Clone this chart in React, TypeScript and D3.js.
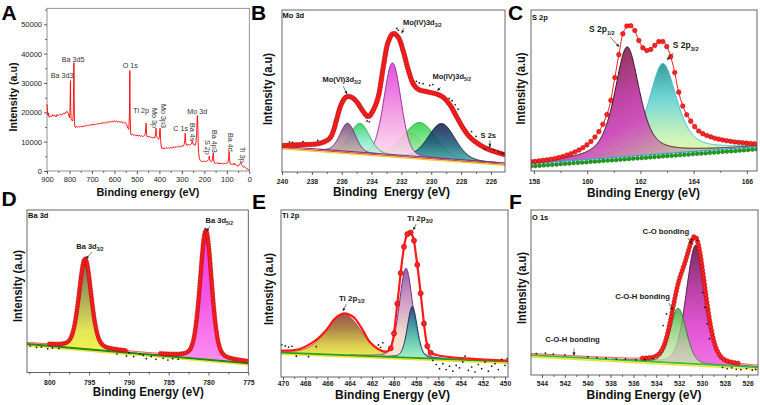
import React, { useEffect, useRef } from "react";
import * as d3 from "d3";

type Pt = [number, number];
type Peak = { center: number; height: number; fwhm: number };

const FONT = "'Liberation Sans', Arial, Helvetica, sans-serif";

// ================= Panel A: survey spectrum (eV, counts) =================
const surveySpectrum: Pt[] = [
  [900, 22800], [898, 20500], [896, 19000], [894, 19800], [892, 18600], [890, 18300], [885, 18900], [880, 18500],
  [875, 19200], [870, 18700], [865, 19000], [860, 18400], [855, 19300], [850, 18800], [845, 19100], [840, 19500],
  [835, 19000], [830, 19400], [825, 19800], [820, 19500], [815, 20100], [810, 20300], [806, 19700], [803, 18800],
  [800, 18200], [798, 19500], [796.5, 27000], [795.5, 30800], [794.5, 22000], [793, 17800], [790, 17400], [787, 17000],
  [785, 17600], [783, 19500], [781, 33000], [780, 36900], [779, 25000], [778, 17000], [776, 15200], [773, 14800],
  [770, 15300], [765, 14900], [760, 15200], [755, 15000], [750, 15300], [745, 14900], [740, 15400], [735, 15100],
  [730, 15500], [725, 15300], [720, 15700], [715, 15400], [710, 15800], [705, 15600], [700, 15900], [695, 15700],
  [690, 16000], [685, 15800], [680, 16100], [675, 15900], [670, 16300], [665, 16000], [660, 16400], [655, 16200],
  [650, 16500], [645, 16300], [640, 16600], [635, 16400], [630, 16800], [625, 16500], [620, 16900], [615, 16600],
  [610, 17000], [605, 16700], [600, 17200], [595, 16800], [590, 17000], [585, 16700], [580, 16900], [575, 16600],
  [570, 16800], [565, 16500], [560, 16700], [555, 16300], [550, 16400], [545, 15800], [540, 14500], [536, 14200],
  [533, 20000], [531.5, 34200], [530, 19000], [528, 13000], [525, 12300], [520, 12600], [515, 12100], [510, 12400],
  [505, 12000], [500, 12300], [495, 11900], [490, 12200], [485, 11800], [480, 12100], [475, 11700], [470, 11900],
  [465, 12200], [462, 13000], [459, 16300], [457, 12500], [455, 11800], [450, 11600], [445, 11900], [440, 11400],
  [435, 11600], [430, 11200], [425, 11500], [420, 11300], [417, 12500], [415, 14600], [413, 12000], [410, 11500],
  [406, 11000], [403, 10800], [400, 11500], [398, 14400], [396.5, 14600], [395, 11000], [392, 8600], [390, 7800],
  [387, 7900], [384, 7500], [380, 7900], [375, 7600], [370, 8000], [365, 7700], [360, 7900], [355, 7600],
  [350, 8100], [345, 7800], [340, 8200], [335, 7900], [330, 8300], [325, 8000], [320, 8400], [315, 8100],
  [310, 8500], [305, 8200], [300, 8600], [295, 8400], [290, 9000], [287, 10500], [285, 12900], [283, 10200],
  [280, 8800], [275, 8900], [270, 9000], [265, 8800], [260, 9200], [257, 9300], [255, 10000], [253, 10300],
  [250, 9100], [247, 9200], [244, 8800], [240, 8900], [237, 9800], [234, 13000], [232, 18300], [230, 18900],
  [228.5, 14000], [227, 8500], [225, 6000], [222, 4200], [219, 3700], [215, 3300], [210, 3200], [205, 3400],
  [200, 3300], [195, 3200], [190, 3400], [185, 3500], [180, 3900], [178, 5100], [176, 3800], [172, 3300],
  [168, 3200], [165, 3400], [162, 5400], [160, 6200], [158, 3800], [155, 2700], [150, 2600], [145, 2800],
  [140, 2500], [135, 2700], [130, 2600], [125, 2500], [120, 2700], [115, 2400], [110, 2600], [105, 2500],
  [100, 2700], [95, 2900], [92, 4500], [90, 6600], [88, 5000], [86, 2500], [80, 2300], [75, 2400],
  [70, 2200], [67, 2700], [65, 2200], [60, 2300], [55, 1800], [50, 1700], [45, 2100], [40, 2600],
  [37, 3000], [35, 2200], [30, 1600], [25, 1300], [20, 1500], [15, 1100], [10, 700], [5, 500], [0, 300],
];
const surveyXTicks = [900, 800, 700, 600, 500, 400, 300, 200, 100, 0];
const surveyYTicks = [0, 10000, 20000, 30000, 40000, 50000];
const surveyPeakNames = ["Ba 3d3", "Ba 3d5", "O 1s", "Ti 2p", "Mo 3p", "Mo 3p3", "C 1s", "Ba 4s", "Mo 3d", "S 2p", "Ba 4p3", "Ba 4d", "Ti 3p"];
const surveyPeakAnchors: Pt[] = [
  [883.5, 31700], [834.6, 37150], [563.3, 35100], [516, 19770], [434.3, 21470], [392.9, 22840],
  [338, 13630], [263.9, 16360], [276, 19430], [197.2, 10570], [166, 13970], [94.8, 12950], [41.5, 8180],
];
const surveyPeakVertical = [false, false, false, false, true, true, false, true, false, true, true, true, true];

// ================= Panel B: Mo 3d =================
const moTicks = [240, 238, 236, 234, 232, 230, 228, 226];
const moBackground: Pt[] = [[240, 15.4], [225, 5.2]];
const moEnvelope: Pt[] = [
  [240.0, 16.3], [239.0, 16.8], [237.7, 17.3], [237.2, 18.5], [236.8, 20.8], [236.55, 25.5], [236.35, 32.1],
  [236.0, 42.4], [235.67, 46.5], [235.33, 46.1], [235.0, 43.4], [234.55, 37.2], [234.22, 34.1], [233.88, 38.3],
  [233.55, 46.5], [233.21, 65], [232.88, 80.4], [232.54, 85.6], [232.21, 83.1], [231.87, 74.3], [231.54, 63],
  [231.2, 54.3], [230.87, 51], [230.31, 49.6], [229.64, 48.1], [229.2, 46.1], [228.75, 41.4], [228.3, 34.1],
  [227.86, 27], [227.4, 21.4], [226.74, 16.7], [226.07, 13.6], [225.0, 10.5],
];
const moComponents: Peak[] = [
  { center: 231.4, height: 15, fwhm: 1.8 },
  { center: 230.76, height: 21.4, fwhm: 2.5 },
  { center: 229.3, height: 21.8, fwhm: 2.1 },
  { center: 232.6, height: 57, fwhm: 1.35 },
  { center: 234.78, height: 18.2, fwhm: 1.5 },
  { center: 235.6, height: 17.7, fwhm: 1.2 },
];
const moRaw: Pt[] = [
  [239.5, 18.6], [239.3, 18.3], [238.6, 18.8], [237.6, 19.6], [234.3, 31.5], [234.15, 31.0], [232.3, 88.6],
  [232.2, 87.5], [231.0, 56], [230.8, 55], [230.55, 54.5], [230.1, 53.5], [229.9, 54], [228.8, 45.5],
  [228.6, 44], [228.4, 41.5], [228.2, 38.8], [227.3, 25], [227.0, 22], [226.4, 14.2], [226.1, 15.6],
  [225.8, 13.6], [225.5, 12.5], [225.3, 11.7], [225.15, 11.4],
];

// ================= Panel C: S 2p =================
const sTicks = [158, 160, 162, 164, 166];
const sBackground: Pt[] = [[157.89, 4.6], [166.38, 15.2]];
const sEnvelope: Pt[] = [
  [157.89, 5.8], [158.6, 7.2], [159.25, 9.9], [159.9, 15.1], [160.4, 23.4], [160.8, 37.9], [161.0, 54.5],
  [161.2, 73.1], [161.37, 86.5], [161.55, 90.7], [161.74, 88.6], [161.92, 81.8], [162.11, 76.2], [162.3, 74.7],
  [162.49, 77.2], [162.68, 80.3], [162.86, 80.3], [163.05, 75.2], [163.24, 64.8], [163.42, 50.3], [163.6, 39.9],
  [163.86, 31.7], [164.23, 24.4], [164.73, 20.7], [165.48, 18.2], [166.38, 16.8],
];
const sComponents: Peak[] = [
  { center: 162.84, height: 56, fwhm: 1.25 },
  { center: 161.5, height: 68, fwhm: 1.1 },
];

// ================= Panel D: Ba 3d =================
const baTicks = [800, 795, 790, 785, 780, 775];
const baBackground: Pt[] = [[802.8, 17.5], [775, 5.7]];
const baComponents: Peak[] = [
  { center: 795.5, height: 54.8, fwhm: 1.8 },
  { center: 780.33, height: 78.6, fwhm: 1.72 },
];
const baRaw: Pt[] = [
  [802.4, 16.3], [801.6, 15.5], [801.0, 15.7], [800.2, 14.6], [799.6, 15.1], [798.8, 14.8], [791.5, 11.4],
  [790.3, 10.2], [789.4, 9.8], [788.6, 11.4], [787.8, 8.5], [787.2, 9.8], [786.6, 8.1], [785.7, 8.7],
  [785.1, 7.7], [784.5, 8.5], [783.8, 8.1], [790.0, 12.2], [788.2, 10.6], [780.4, 88.5],
];

// ================= Panel E: Ti 2p =================
const tiTicks = [470, 468, 466, 464, 462, 460, 458, 456, 454, 452, 450];
const tiBackground: Pt[] = [[470.2, 14.6], [449.7, 9.2]];
const tiEnvelope: Pt[] = [
  [470.2, 15.8], [468.5, 16.8], [467.0, 22.2], [466.1, 28.1], [465.3, 35.1], [464.5, 38.1], [463.7, 36.1],
  [462.9, 29.1], [462.2, 21.1], [461.4, 16.6], [460.8, 15.2], [460.4, 16.2], [460.1, 22.2], [459.8, 38.1],
  [459.5, 56.1], [459.2, 73.1], [458.9, 84], [458.6, 87], [458.3, 84], [458.0, 72], [457.7, 56.1],
  [457.4, 38.1], [457.1, 22.2], [456.8, 15.2], [456.2, 13.2], [449.7, 9.8],
];
const tiComponents: Peak[] = [
  { center: 464.5, height: 24.6, fwhm: 3.7 },
  { center: 458.92, height: 53.5, fwhm: 1.41 },
  { center: 458.35, height: 30.7, fwhm: 1.05 },
];
const tiRaw: Pt[] = [
  [470.1, 19.3], [469.8, 18.6], [469.5, 17.9], [469.2, 18.4], [468.8, 12.5], [467.7, 12.2], [467.0, 18.2],
  [461.4, 19.2], [461.2, 17.8], [461.0, 20.5], [456.5, 10], [456.2, 7.5], [455.9, 5], [455.6, 8], [455.3, 4.5],
  [455.0, 6.5], [454.7, 3.5], [454.4, 7], [454.1, 5.5], [453.8, 9], [453.6, 12.5], [453.3, 4], [453.0, 6],
  [452.7, 3], [452.4, 7.5], [452.1, 5], [451.8, 9], [451.5, 3.5], [451.2, 6.5], [450.9, 8], [450.6, 4.5],
  [450.3, 10.5], [450.0, 7], [449.8, 11],
];

// ================= Panel F: O 1s =================
const oTicks = [544, 542, 540, 538, 536, 534, 532, 530, 528, 526];
const oBackground: Pt[] = [[545, 12.1], [525.1, 4.6]];
const oComponents: Peak[] = [
  { center: 530.54, height: 72.1, fwhm: 1.95 },
  { center: 532.08, height: 33.2, fwhm: 1.66 },
];
const oRaw: Pt[] = [
  [544.5, 13], [543.7, 13.3], [543, 12.6], [542, 12.2], [541.2, 12.8], [540, 11], [539.2, 10.6], [538.4, 10.2],
  [537.5, 9.6], [536.7, 9.8], [535.8, 9.2], [535, 9.3], [534.3, 10], [528.2, 4.6], [527.8, 3.8], [527.4, 4.4],
  [527, 3.5], [526.6, 3.2], [526.1, 3.9], [525.6, 2.9], [525.3, 3.4], [529.95, 50], [529.75, 41], [529.55, 31],
  [529.35, 22], [533.4, 30], [533.1, 37], [530.9, 82], [530.4, 81.5],
];

// ================= drawing helpers =================
function pv(E: number, p: Peak, eta: number) {
  const d = (E - p.center) / p.fwhm;
  return p.height * (eta / (1 + 4 * d * d) + (1 - eta) * Math.exp(-4 * Math.LN2 * d * d));
}

type Style = { stops: string[]; offsets?: number[]; dir?: [number, number]; stroke: string; opacity?: number };
type Ann = { parts: [string, boolean][]; e: number; u: number; arrow?: [number, number, number, number] };

function addAxes(g: any, x: any, yPos: number, ticks: number[], minorStep: number, fs: number, pad: number, bold: boolean) {
  const dom = x.domain();
  const lo = Math.min(dom[0], dom[1]);
  const hi = Math.max(dom[0], dom[1]);
  const minor = d3
    .range(Math.ceil(lo / minorStep) * minorStep, hi + 1e-9, minorStep)
    .filter((v) => !ticks.some((t) => Math.abs(t - v) < 1e-6));
  const ax = d3.axisBottom(x).tickValues(ticks).tickSize(3).tickPadding(pad).tickFormat((d: any) => String(d));
  const ga = g.append("g").attr("transform", `translate(0,${yPos})`).call(ax);
  ga.select(".domain").remove();
  ga.selectAll("line").attr("stroke", "#333").attr("stroke-width", 0.8);
  ga.selectAll("text")
    .attr("font-family", FONT)
    .attr("font-size", fs)
    .attr("font-weight", bold ? "bold" : "normal")
    .attr("fill", "#222");
  const am = d3.axisBottom(x).tickValues(minor).tickSize(2).tickFormat(() => "");
  const gm = g.append("g").attr("transform", `translate(0,${yPos})`).call(am);
  gm.select(".domain").remove();
  gm.selectAll("line").attr("stroke", "#333").attr("stroke-width", 0.7);
}

function drawArrow(g: any, x1: number, y1: number, x2: number, y2: number) {
  g.append("line").attr("x1", x1).attr("y1", y1).attr("x2", x2).attr("y2", y2).attr("stroke", "#222").attr("stroke-width", 0.6);
  const a = Math.atan2(y2 - y1, x2 - x1);
  const L = 3, w = 1.5;
  const bx = x2 - L * Math.cos(a), by = y2 - L * Math.sin(a);
  const pts = [
    [x2, y2],
    [bx + w * Math.sin(a), by - w * Math.cos(a)],
    [bx - w * Math.sin(a), by + w * Math.cos(a)],
  ];
  g.append("polygon").attr("points", pts.map((p) => p.join(",")).join(" ")).attr("fill", "#222");
}

function drawLabel(g: any, px: number, py: number, parts: [string, boolean][], fs: number, anchor = "middle") {
  const t = g.append("text").attr("x", px).attr("y", py).attr("text-anchor", anchor)
    .attr("font-family", FONT).attr("font-weight", "bold").attr("font-size", fs).attr("fill", "#1a1a1a")
    .style("white-space", "pre");
  parts.forEach(([s, sub]) => {
    const ts = t.append("tspan").text(s);
    if (sub) ts.attr("font-size", fs * 0.66).attr("dy", fs * 0.3);
  });
}

interface XpsPanel {
  id: string;
  letter: string; letterPos: Pt;
  title: string; titlePos: Pt;
  box: { l: number; r: number; t: number; b: number };
  domain: [number, number];
  ticks: number[]; minorStep: number; tickPad: number;
  background: Pt[];
  components: Peak[]; styles: Style[]; eta: number;
  envelope?: Pt[]; envOffset: number; envWidth: number;
  dots: { mode: string; step: number; r: number; range?: [number, number]; threshold?: number };
  raw: Pt[];
  baseLines: { off: number; color: string; w: number }[];
  greenDots?: boolean;
  labels: Ann[]; labelSize: number;
  xTitle: string; xTitlePos: Pt; xTitleLen: number;
  yTitlePos: Pt;
}

function drawXps(svg: any, defs: any, P: XpsPanel) {
  const { l, r, t, b } = P.box;
  const x = d3.scaleLinear().domain(P.domain).range([l, r]);
  const y = d3.scaleLinear().domain([0, 100]).range([b, t]);
  const g = svg.append("g");
  const clipId = `clip-${P.id}`;
  defs.append("clipPath").attr("id", clipId).append("rect").attr("x", l).attr("y", t).attr("width", r - l).attr("height", b - t);
  const plot = g.append("g").attr("clip-path", `url(#${clipId})`);
  const [[e0, u0], [e1, u1]] = P.background;
  const base = (E: number) => u0 + ((E - e0) / (e1 - e0)) * (u1 - u0);
  const lo = Math.min(P.domain[0], P.domain[1]);
  const hi = Math.max(P.domain[0], P.domain[1]);
  const N = 900;
  const grid = d3.range(N + 1).map((i) => lo + ((hi - lo) * i) / N);

  // component fills
  P.components.forEach((pk, i) => {
    const st = P.styles[i];
    const gid = `${P.id}-grad-${i}`;
    const lg = defs.append("linearGradient").attr("id", gid)
      .attr("x1", 0).attr("y1", 0)
      .attr("x2", st.dir ? st.dir[0] : 0).attr("y2", st.dir ? st.dir[1] : 1);
    st.stops.forEach((c, k) =>
      lg.append("stop").attr("offset", st.offsets ? st.offsets[k] : k / (st.stops.length - 1)).attr("stop-color", c)
    );
    const pts = grid
      .map((E) => [E, base(E), base(E) + pv(E, pk, P.eta)] as [number, number, number])
      .filter((d) => d[2] - d[1] > 0.25);
    const area = d3.area<[number, number, number]>().x((d) => x(d[0])).y0((d) => y(d[1])).y1((d) => y(d[2]));
    plot.append("path").attr("d", area(pts)).attr("fill", `url(#${gid})`).attr("fill-opacity", st.opacity ?? 0.88);
    const ln = d3.line<[number, number, number]>().x((d) => x(d[0])).y((d) => y(d[2]));
    plot.append("path").attr("d", ln(pts)).attr("fill", "none").attr("stroke", st.stroke).attr("stroke-width", 1);
  });

  // background lines
  P.baseLines.forEach((bl) => {
    plot.append("line")
      .attr("x1", x(e0)).attr("y1", y(u0 + bl.off)).attr("x2", x(e1)).attr("y2", y(u1 + bl.off))
      .attr("stroke", bl.color).attr("stroke-width", bl.w);
  });
  if (P.greenDots) {
    const gd = plot.append("g");
    for (let E = lo; E <= hi + 0.01; E += 0.16) {
      gd.append("circle").attr("cx", x(E)).attr("cy", y(base(E) - 1.7)).attr("r", 2.0)
        .attr("fill", "#1aa01a").attr("stroke", "#0b5a0b").attr("stroke-width", 0.4);
    }
  }

  // envelope
  let envPts: Pt[];
  if (P.envelope) {
    envPts = [...P.envelope].sort((a, c) => x(a[0]) - x(c[0]));
  } else {
    envPts = grid.map((E) => [E, base(E) + P.envOffset + d3.sum(P.components, (pk) => pv(E, pk, P.eta))] as Pt);
    envPts.sort((a, c) => x(a[0]) - x(c[0]));
  }
  const envLine = d3.line<Pt>().x((d) => x(d[0])).y((d) => y(d[1])).curve(d3.curveCatmullRom.alpha(0.5));
  const envPath = plot.append("path").attr("d", envLine(envPts)).attr("fill", "none")
    .attr("stroke", "#ff1a1a").attr("stroke-width", P.envWidth);
  const node = envPath.node() as SVGPathElement;
  const L = node.getTotalLength();
  const dots: Pt[] = [];
  if (P.dots.mode === "arc") {
    for (let s = 0; s <= L; s += P.dots.step) {
      const p = node.getPointAtLength(s);
      const E = x.invert(p.x);
      if (P.dots.range && (E < P.dots.range[0] || E > P.dots.range[1])) continue;
      if (P.dots.threshold != null && y(base(E)) - p.y < P.dots.threshold) continue;
      dots.push([p.x, p.y]);
    }
  } else {
    const samples: Pt[] = [];
    for (let s = 0; s <= L; s += 0.4) {
      const p = node.getPointAtLength(s);
      samples.push([p.x, p.y]);
    }
    const [ra, rb] = P.dots.range || [lo, hi];
    for (let E = ra; E <= rb + 1e-6; E += P.dots.step) {
      const px = x(E);
      let best = samples[0], bd = Infinity;
      for (const sp of samples) {
        const dd = Math.abs(sp[0] - px);
        if (dd < bd) { bd = dd; best = sp; }
      }
      dots.push([px, best[1]]);
    }
  }
  plot.append("g").selectAll("circle").data(dots).join("circle")
    .attr("cx", (d: Pt) => d[0]).attr("cy", (d: Pt) => d[1]).attr("r", P.dots.r)
    .attr("fill", "#ff2424").attr("stroke", "#b00000").attr("stroke-width", 0.5);

  // raw scatter
  plot.append("g").selectAll("circle").data(P.raw).join("circle")
    .attr("cx", (d: Pt) => x(d[0])).attr("cy", (d: Pt) => y(d[1])).attr("r", 0.85).attr("fill", "#111");

  // frame
  g.append("rect").attr("x", l).attr("y", t).attr("width", r - l).attr("height", b - t)
    .attr("fill", "none").attr("stroke", "#555").attr("stroke-width", 0.9);

  addAxes(g, x, b, P.ticks, P.minorStep, 6.8, P.tickPad, true);

  // annotations
  P.labels.forEach((a) => {
    drawLabel(g, x(a.e), y(a.u), a.parts, P.labelSize);
    if (a.arrow) drawArrow(g, x(a.arrow[0]), y(a.arrow[1]), x(a.arrow[2]), y(a.arrow[3]));
  });

  // texts
  g.append("text").attr("x", P.letterPos[0]).attr("y", P.letterPos[1]).attr("font-family", FONT)
    .attr("font-weight", "bold").attr("font-size", 21).attr("fill", "#000").text(P.letter);
  g.append("text").attr("x", P.titlePos[0]).attr("y", P.titlePos[1]).attr("font-family", FONT)
    .attr("font-weight", "bold").attr("font-size", 7.5).attr("fill", "#111").text(P.title);
  g.append("text").attr("x", P.xTitlePos[0]).attr("y", P.xTitlePos[1]).attr("text-anchor", "middle")
    .attr("font-family", FONT).attr("font-weight", "bold").attr("font-size", 12.5).attr("fill", "#111")
    .attr("textLength", P.xTitleLen).attr("lengthAdjust", "spacingAndGlyphs").style("white-space", "pre")
    .text(P.xTitle);
  g.append("text").attr("transform", `translate(${P.yTitlePos[0]},${P.yTitlePos[1]}) rotate(-90)`)
    .attr("text-anchor", "middle").attr("font-family", FONT).attr("font-weight", "bold").attr("font-size", 12)
    .attr("fill", "#111").attr("textLength", 72).attr("lengthAdjust", "spacingAndGlyphs")
    .text("Intensity (a.u)");
}

function drawSurvey(svg: any) {
  const l = 47, r = 249.3, t = 8.3, b = 171;
  const x = d3.scaleLinear().domain([900, 0]).range([l, r]);
  const y = d3.scaleLinear().domain([0, 55450]).range([b, t]);
  const g = svg.append("g");
  g.append("rect").attr("x", l).attr("y", t).attr("width", r - l).attr("height", b - t)
    .attr("fill", "none").attr("stroke", "#777").attr("stroke-width", 0.8);
  const line = d3.line<Pt>().x((d) => x(d[0])).y((d) => y(d[1]));
  g.append("path").attr("d", line(surveySpectrum)).attr("fill", "none").attr("stroke", "#ff0000").attr("stroke-width", 0.9);

  addAxes(g, x, b, surveyXTicks, 50, 7.5, 3, false);
  const ay = d3.axisLeft(y).tickValues(surveyYTicks).tickSize(3).tickPadding(2).tickFormat((d: any) => String(d));
  const gy = g.append("g").attr("transform", `translate(${l},0)`).call(ay);
  gy.select(".domain").remove();
  gy.selectAll("line").attr("stroke", "#333").attr("stroke-width", 0.8);
  gy.selectAll("text").attr("font-family", FONT).attr("font-size", 7.5).attr("fill", "#222");
  const aym = d3.axisLeft(y).tickValues([5000, 15000, 25000, 35000, 45000, 55000]).tickSize(2).tickFormat(() => "");
  const gym = g.append("g").attr("transform", `translate(${l},0)`).call(aym);
  gym.select(".domain").remove();
  gym.selectAll("line").attr("stroke", "#333").attr("stroke-width", 0.7);

  surveyPeakNames.forEach((name, i) => {
    const [e, c] = surveyPeakAnchors[i];
    const tx = g.append("text").attr("font-family", FONT).attr("font-size", 7.2).attr("fill", "#333").text(name);
    if (surveyPeakVertical[i]) tx.attr("transform", `translate(${x(e)},${y(c)}) rotate(90)`);
    else tx.attr("x", x(e)).attr("y", y(c));
  });

  g.append("text").attr("x", 1.5).attr("y", 20).attr("font-family", FONT).attr("font-weight", "bold")
    .attr("font-size", 21).attr("fill", "#000").text("A");
  g.append("text").attr("x", 148).attr("y", 196).attr("text-anchor", "middle").attr("font-family", FONT)
    .attr("font-weight", "bold").attr("font-size", 11.5).attr("fill", "#111")
    .attr("textLength", 103).attr("lengthAdjust", "spacingAndGlyphs").text("Binding energy (eV)");
  g.append("text").attr("transform", "translate(17,97) rotate(-90)").attr("text-anchor", "middle")
    .attr("font-family", FONT).attr("font-weight", "bold").attr("font-size", 11).attr("fill", "#111")
    .attr("textLength", 69).attr("lengthAdjust", "spacingAndGlyphs").text("Intensity (a.u)");
}

// ================= styles per panel =================
const moStyles: Style[] = [
  { stops: ["#c8a868", "#e0cc98", "#f4ead0"], stroke: "#b09050" },
  { stops: ["#2ed04a", "#78e888", "#c8f8d0"], stroke: "#1aa030" },
  { stops: ["#1a1e50", "#1c5a78", "#46b4b0"], stroke: "#10183a" },
  { stops: ["#e038d8", "#f090e0", "#ffe0ee"], stroke: "#a02898" },
  { stops: ["#2fcf5a", "#7fe8c0", "#c8f4f0"], stroke: "#1fb04a" },
  { stops: ["#6e4a78", "#a8829a", "#c8b0a0"], stroke: "#6a2a6a" },
];
const sStyles: Style[] = [
  { stops: ["#1a9090", "#60d0d0", "#c8f4b0", "#f0f890"], offsets: [0, 0.35, 0.75, 1], stroke: "#40b8e0" },
  { stops: ["#7a2838", "#7a2838", "#b8389a", "#cc48b8", "#c8b8a0", "#d8d0b0"], offsets: [0, 0.15, 0.4, 0.55, 0.8, 1], dir: [1, 1], stroke: "#2a1020", opacity: 0.95 },
];
const baStyles: Style[] = [
  { stops: ["#5a5848", "#8c8c40", "#e0e040", "#f4f438"], offsets: [0, 0.3, 0.75, 1], stroke: "#d02020" },
  { stops: ["#f020e0", "#f040e0", "#ff80f0"], stroke: "#e01cd0" },
];
const tiStyles: Style[] = [
  { stops: ["#904030", "#a07030", "#d8c838", "#f0f040"], offsets: [0, 0.3, 0.7, 1], stroke: "#c03020" },
  { stops: ["#8a4aa0", "#c890c0", "#f4d8c8", "#fae8d0"], offsets: [0, 0.35, 0.75, 1], stroke: "#6a2a7a" },
  { stops: ["#283a70", "#2c8a98", "#60d0b0", "#a0f0c8"], offsets: [0, 0.3, 0.7, 1], stroke: "#182858" },
];
const oStyles: Style[] = [
  { stops: ["#601048", "#b02898", "#e040d0", "#f060e0"], offsets: [0, 0.35, 0.7, 1], stroke: "#5a1050" },
  { stops: ["#38a838", "#80cc70", "#b8e0a0", "#d0e8b8"], offsets: [0, 0.35, 0.7, 1], stroke: "#208a28", opacity: 0.8 },
];

const panels: XpsPanel[] = [
  {
    id: "b", letter: "B", letterPos: [251, 20], title: "Mo 3d", titlePos: [282.5, 17.7],
    box: { l: 282, r: 505, t: 10, b: 172 }, domain: [240, 225.06], ticks: moTicks, minorStep: 1, tickPad: 4.2,
    background: moBackground, components: moComponents, styles: moStyles, eta: 0.15,
    envelope: moEnvelope, envOffset: 0, envWidth: 1.5,
    dots: { mode: "arc", step: 2.4, r: 2.3 }, raw: moRaw,
    baseLines: [{ off: -1.2, color: "#e8d020", w: 1.2 }, { off: -0.4, color: "#e04020", w: 1.0 }, { off: 0.4, color: "#803080", w: 1.0 }],
    labels: [
      { parts: [["Mo(VI)3d", false], ["3/2", true]], e: 236.0, u: 55.6, arrow: [235.9, 53, 235.65, 48.1] },
      { parts: [["Mo(IV)3d", false], ["3/2", true]], e: 230.6, u: 90.7, arrow: [231.83, 88.7, 231.98, 85.6] },
      { parts: [["Mo(IV)3d", false], ["5/2", true]], e: 228.63, u: 57.4, arrow: [229.37, 52.3, 229.6, 50.2] },
      { parts: [["S 2s", false]], e: 226.18, u: 21, arrow: [226.07, 19.6, 226.07, 15.6] },
    ],
    labelSize: 7.5,
    xTitle: "Binding  Energy (eV)", xTitlePos: [391.5, 196], xTitleLen: 117, yTitlePos: [271.5, 89],
  },
  {
    id: "c", letter: "C", letterPos: [508, 20], title: "S 2p", titlePos: [532, 20],
    box: { l: 531, r: 757, t: 10, b: 171 }, domain: [157.89, 166.38], ticks: sTicks, minorStep: 1, tickPad: 5.2,
    background: sBackground, components: sComponents, styles: sStyles, eta: 0.6,
    envelope: sEnvelope, envOffset: 0, envWidth: 1.0,
    dots: { mode: "energy", step: 0.15, r: 2.3 }, raw: [],
    baseLines: [{ off: 0, color: "#30a8d8", w: 1.2 }], greenDots: true,
    labels: [
      { parts: [["S 2p", false], ["1/2", true]], e: 160.55, u: 86.3, arrow: [160.86, 83.2, 161.2, 77.2] },
      { parts: [["S 2p", false], ["3/2", true]], e: 163.7, u: 76.1, arrow: [163.23, 73.3, 163.0, 68.9] },
    ],
    labelSize: 8.5,
    xTitle: "Binding Energy (eV)", xTitlePos: [643.5, 196.5], xTitleLen: 113, yTitlePos: [525, 88.5],
  },
  {
    id: "d", letter: "D", letterPos: [1.5, 206], title: "Ba 3d", titlePos: [28, 218.3],
    box: { l: 27, r: 248.3, t: 210, b: 372.5 }, domain: [802.8, 775], ticks: baTicks, minorStep: 2.5, tickPad: 4.2,
    background: baBackground, components: baComponents, styles: baStyles, eta: 0.25,
    envOffset: 0.8, envWidth: 1.0,
    dots: { mode: "arc", step: 2.5, r: 2.0, threshold: 2.2 }, raw: baRaw,
    baseLines: [{ off: -1.0, color: "#f0e020", w: 1.4 }, { off: 0, color: "#1a8a1a", w: 2.0 }],
    labels: [
      { parts: [["Ba 3d", false], ["3/2", true]], e: 794.9, u: 76, arrow: [794.6, 74.2, 795.4, 70] },
      { parts: [["Ba 3d", false], ["5/2", true]], e: 778.65, u: 92.3, arrow: [779.8, 90.2, 780.25, 86.9] },
    ],
    labelSize: 7.5,
    xTitle: "Binding Energy (eV)", xTitlePos: [148.3, 396], xTitleLen: 111, yTitlePos: [21.5, 286],
  },
  {
    id: "e", letter: "E", letterPos: [252, 209], title: "Ti 2p", titlePos: [282, 218.3],
    box: { l: 281, r: 508, t: 210, b: 377 }, domain: [470.18, 449.73], ticks: tiTicks, minorStep: 1, tickPad: 1.5,
    background: tiBackground, components: tiComponents, styles: tiStyles, eta: 0.25,
    envelope: tiEnvelope, envOffset: 0, envWidth: 2.2,
    dots: { mode: "energy", step: 0.3, r: 2.6, range: [456.7, 460.3] }, raw: tiRaw,
    baseLines: [{ off: -1.0, color: "#f0e020", w: 1.4 }, { off: 0, color: "#20a020", w: 1.8 }],
    labels: [
      { parts: [["Ti 2p", false], ["1/2", true]], e: 463.8, u: 45.5, arrow: [464.3, 43.7, 464.6, 39.5] },
      { parts: [["Ti 2p", false], ["3/2", true]], e: 457.65, u: 93.4, arrow: [458.0, 91.6, 458.26, 88] },
    ],
    labelSize: 8,
    xTitle: "Binding Energy (eV)", xTitlePos: [392.5, 399], xTitleLen: 115, yTitlePos: [273, 289],
  },
  {
    id: "f", letter: "F", letterPos: [509, 209], title: "O 1s", titlePos: [532, 220],
    box: { l: 531, r: 758, t: 210, b: 375 }, domain: [544.96, 525.1], ticks: oTicks, minorStep: 1, tickPad: 2.7,
    background: oBackground, components: oComponents, styles: oStyles, eta: 0.2,
    envOffset: 0.8, envWidth: 1.0,
    dots: { mode: "arc", step: 3.6, r: 2.2, threshold: 3 }, raw: oRaw,
    baseLines: [{ off: -1.2, color: "#f0e020", w: 1.4 }, { off: 0, color: "#30c030", w: 1.8 }],
    labels: [
      { parts: [["C-O bonding", false]], e: 533.16, u: 85.2, arrow: [531.24, 83, 530.9, 79.4] },
      { parts: [["C-O-H bonding", false]], e: 535.2, u: 45.8, arrow: [532.9, 43.6, 532.55, 39.4] },
      { parts: [["C-O-H bonding", false]], e: 541.33, u: 20, arrow: [541.2, 16, 541.2, 12] },
    ],
    labelSize: 7.7,
    xTitle: "Binding Energy (eV)", xTitlePos: [644, 399], xTitleLen: 115, yTitlePos: [526, 288],
  },
];

export default function App() {
  const ref = useRef<SVGSVGElement>(null);
  useEffect(() => {
    const svg = d3.select(ref.current);
    svg.selectAll("*").remove();
    const defs = svg.append("defs");
    drawSurvey(svg);
    panels.forEach((p) => drawXps(svg, defs, p));
  }, []);
  return (
    <svg
      ref={ref}
      width={760}
      height={405}
      style={{ position: "absolute", left: 0, top: 0, background: "#fff", display: "block" }}
    />
  );
}
